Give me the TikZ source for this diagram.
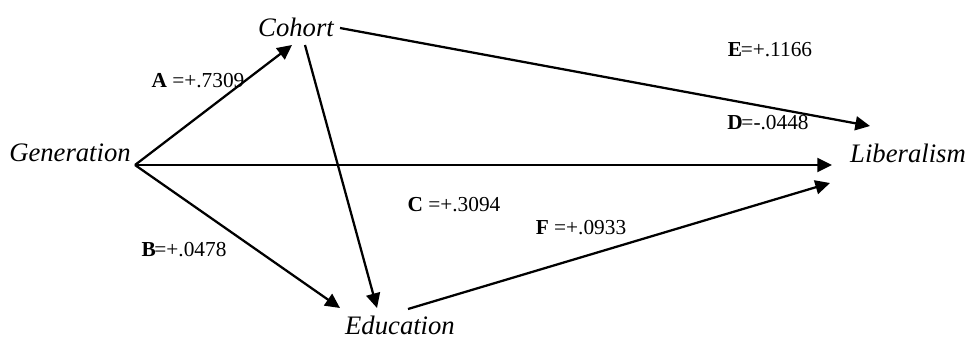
\documentclass[tikz,border=0pt]{standalone}
\usepackage{fontspec}
\setmainfont{Liberation Serif}
\usetikzlibrary{arrows.meta}
\tikzset{
  var/.style={font=\fontsize{20}{24}\selectfont\itshape,inner sep=0pt},
  coef/.style={font=\fontsize{16}{19}\selectfont,inner sep=0pt},
  path/.style={line width=1.7pt,-{Triangle[length=11pt,width=10.5pt]}}
}
\begin{document}
\begin{tikzpicture}[x=0.75pt,y=-0.75pt,line join=round]
				\useasboundingbox (0,0) rectangle (969,339);
				\node[var] (gen) at (70,153) {Generation};
				\node[var] (coh) at (296,27) {Cohort};
				\node[var] (edu) at (400,325) {Education};
				\node[var] (lib) at (908,153) {Liberalism};
				\coordinate (GenR) at (135,165);
				\coordinate (CohIn) at (292,45);
				\coordinate (CohR) at (340,28);
				\coordinate (CohB) at (305,45);
				\coordinate (EduIn1) at (340,308);
				\coordinate (EduIn2) at (377,308);
				\coordinate (EduR) at (408,309);
				\coordinate (LibIn1) at (870,126);
				\coordinate (LibIn2) at (832,165);
				\coordinate (LibIn3) at (830,183);
				\draw[path] (GenR) -- (CohIn);
				\draw[path] (GenR) -- (LibIn2);
				\draw[path] (GenR) -- (EduIn1);
				\draw[path] (CohR) -- (LibIn1);
				\draw[path] (CohB) -- (EduIn2);
				\draw[path] (EduR) -- (LibIn3);
				\node[coef] (lA) at (198,81) {\textbf{A} =+.7309};
				\node[coef] (lB) at (184,250) {\textbf{B}\kern-1pt=+.0478};
				\node[coef] (lC) at (454,205) {\textbf{C} =+.3094};
				\node[coef] (lD) at (768,123) {\textbf{D}\kern-1pt=-.0448};
				\node[coef] (lE) at (770,50) {\textbf{E}\kern-1pt=+.1166};
				\node[coef] (lF) at (581,228) {\textbf{F} =+.0933};
\end{tikzpicture}
\end{document}
